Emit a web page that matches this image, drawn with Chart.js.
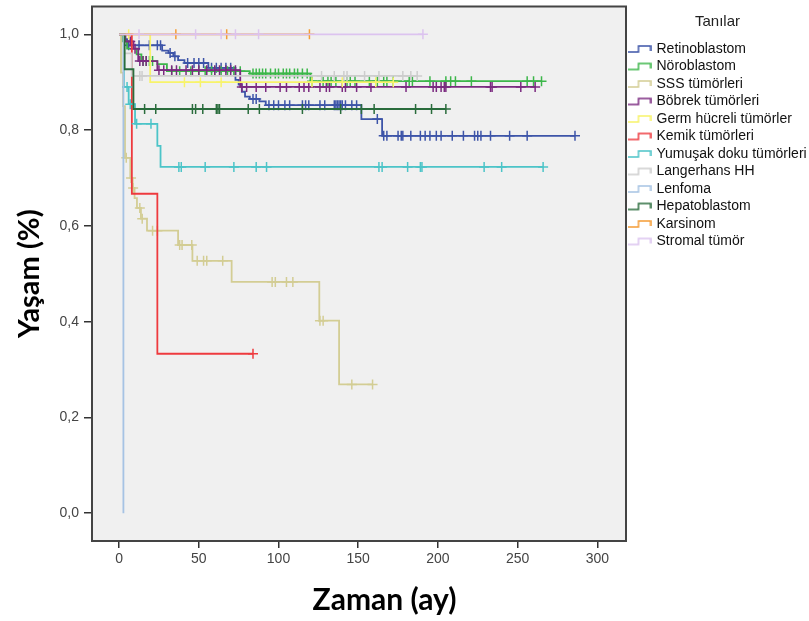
<!DOCTYPE html>
<html>
<head>
<meta charset="utf-8">
<script src="https://cdn.jsdelivr.net/npm/chart.js@4.4.0/dist/chart.umd.min.js"></script>
<style>
html, body { margin: 0; padding: 0; background: #fff; }
</style>
</head>
<body>
<canvas id="kmChart" width="809" height="621"></canvas>
<script>
// Kaplan-Meier: event times (T, ay), survival after each event (S), censored times (C)
var retinoT = [2, 5, 27, 31, 34, 37, 41, 56, 73, 75, 77, 79, 82, 88, 92, 152, 165];
var retinoS = [0.99, 0.977, 0.966, 0.961, 0.954, 0.946, 0.94, 0.93, 0.905, 0.895, 0.88, 0.87, 0.865, 0.86, 0.852, 0.823, 0.788];
var retinoC = [6, 12.5, 19, 24, 26, 32, 35, 43, 47, 50, 53, 58, 61, 64, 67, 70, 84, 86, 94, 97, 100, 104, 107, 115, 117, 119, 126, 129, 135, 136, 137, 138, 139, 140, 142, 146, 149, 162, 166, 168, 175, 177, 178, 183, 189, 192, 195, 199, 202, 209, 216, 223, 225, 227, 233, 245, 256, 286];

var neuroT = [2, 5, 11, 14, 24, 30, 82, 120];
var neuroS = [0.985, 0.97, 0.958, 0.944, 0.9375, 0.923, 0.918, 0.902];
var neuroC = [15, 17, 19, 21, 33, 38, 45, 50, 54, 58, 60, 64, 68, 72, 76, 84, 86, 88, 90, 92, 95, 98, 100, 103, 105, 107, 110, 112, 115, 118, 121, 128, 131, 133, 136, 143, 145, 148, 157, 162, 166, 168, 172, 182, 184, 195, 205, 208, 211, 221, 256, 260, 265];

var sssT = [1.2, 2.5, 3.7, 7, 8.5, 9.7, 11.2, 13.7, 17.5, 37, 46, 70.6, 125.6, 138];
var sssS = [0.92, 0.85, 0.742, 0.70, 0.679, 0.658, 0.6375, 0.615, 0.59, 0.56, 0.527, 0.483, 0.402, 0.269];
var sssC = [4.5, 7.5, 8.8, 13, 14.5, 21, 24, 38, 39.5, 45.6, 49, 53, 55, 65, 96, 98, 105, 109, 126, 128, 146, 159];

var bobrekT = [4, 9, 12, 24, 76];
var bobrekS = [0.985, 0.97, 0.944, 0.925, 0.89];
var bobrekC = [7, 10, 13, 15, 17, 25, 28, 33, 36, 42, 46, 50, 55, 60, 63, 67, 70, 73, 77, 80, 86, 92, 101, 105, 113, 116, 119, 126, 130, 132, 140, 142, 149, 158, 180, 197, 199, 202, 204, 205, 233, 234, 252, 261];

var germT = [19.5];
var germS = [0.9];
var germC = [6, 41, 51, 64, 121, 140, 161, 172];

var kemikT = [8, 24];
var kemikS = [0.667, 0.333];
var kemikC = [84];

var yumusakT = [3, 6, 10, 24, 26];
var yumusakS = [0.89, 0.854, 0.813, 0.767, 0.723];
var yumusakC = [5, 7, 11, 20, 37.5, 39, 54, 72, 86, 92.5, 163, 165, 181, 189, 190, 229, 240, 266];

var langerT = [3, 8];
var langerS = [0.96, 0.913];
var langerC = [13, 14.4, 127, 135, 141, 143, 154, 163, 178, 183, 187];

var lenfomaT = [2.7];
var lenfomaS = [0];
var lenfomaC = [];

var hepatoT = [3.5, 9];
var hepatoS = [0.927, 0.844];
var hepatoC = [16, 23, 46, 48, 52.5, 61, 62, 63, 81, 88, 115, 139, 152, 160, 186, 196, 205];

var karsinomT = [];
var karsinomS = [];
var karsinomC = [35.6, 67.5, 119.4];

var stromalT = [];
var stromalS = [];
var stromalC = [12.5, 48, 64, 73, 87.5, 190.6];

var groupNames = ['Retinoblastom', 'Nöroblastom', 'SSS tümörleri', 'Böbrek tümörleri', 'Germ hücreli tümörler',
    'Kemik tümörleri', 'Yumuşak doku tümörleri', 'Langerhans HH', 'Lenfoma', 'Hepatoblastom', 'Karsinom', 'Stromal tümör'];
var groupColors = ['#3d54a8', '#3cb64a', '#d3cd94', '#7b2a80', '#f7f36a', '#ee3a3e',
    '#4cc4c8', '#cdcdcd', '#a6c3e4', '#2a6c3c', '#f59c34', '#dcc3ef'];

var xTicks = [0, 50, 100, 150, 200, 250, 300];
var yTicks = [0, 0.2, 0.4, 0.6, 0.8, 1.0];

var groupData = [
    [retinoT, retinoS, retinoC], [neuroT, neuroS, neuroC], [sssT, sssS, sssC], [bobrekT, bobrekS, bobrekC],
    [germT, germS, germC], [kemikT, kemikS, kemikC], [yumusakT, yumusakS, yumusakC], [langerT, langerS, langerC],
    [lenfomaT, lenfomaS, lenfomaC], [hepatoT, hepatoS, hepatoC], [karsinomT, karsinomS, karsinomC], [stromalT, stromalS, stromalC]
];

var fontFam = "'Liberation Sans', Arial, sans-serif";

function survAt(T, S, t) {
    var s = 1;
    for (var i = 0; i < T.length; i++) {
        if (T[i] <= t) s = S[i];
    }
    return s;
}

function stepIcon(color) {
    var c = document.createElement('canvas');
    c.width = 24;
    c.height = 10;
    var g = c.getContext('2d');
    g.strokeStyle = color;
    g.lineWidth = 1.5;
    g.beginPath();
    g.moveTo(0, 8); g.lineTo(11, 8); g.lineTo(11, 2); g.lineTo(23, 2); g.lineTo(23, 7);
    g.stroke();
    return c;
}

var icons = groupColors.map(stepIcon);
var datasets = [];

groupData.forEach(function (gd, i) {
    var T = gd[0], S = gd[1], C = gd[2];
    var pts = [{x: 0, y: 1}];
    for (var k = 0; k < T.length; k++) pts.push({x: T[k], y: S[k]});
    var lastT = T.length ? T[T.length - 1] : 0;
    var lastS = S.length ? S[S.length - 1] : 1;
    var end = Math.max(lastT, C.length ? C[C.length - 1] : 0);
    if (end > lastT) pts.push({x: end, y: lastS});

    datasets.push({
        type: 'line',
        label: groupNames[i],
        data: pts,
        stepped: 'before',
        borderColor: groupColors[i],
        borderWidth: 1.8,
        pointRadius: 0,
        fill: false,
        order: -i * 2
    });
    datasets.push({
        type: 'scatter',
        label: groupNames[i] + ' sansürlü',
        data: C.map(function (t) { return {x: t, y: survAt(T, S, t)}; }),
        showLine: false,
        pointStyle: 'cross',
        pointRadius: 5,
        borderColor: groupColors[i],
        borderWidth: 1.5,
        order: -i * 2 - 1
    });
});

var plotFrame = {
    id: 'plotFrame',
    beforeDraw: function (chart) {
        var ctx = chart.ctx, ca = chart.chartArea;
        ctx.save();
        ctx.fillStyle = '#ffffff';
        ctx.fillRect(0, 0, chart.width, chart.height);
        ctx.fillStyle = '#f0f0f0';
        ctx.fillRect(ca.left, ca.top, ca.right - ca.left, ca.bottom - ca.top);
        ctx.restore();
    },
    afterDraw: function (chart) {
        var ctx = chart.ctx, ca = chart.chartArea;
        ctx.save();
        ctx.strokeStyle = '#444';
        ctx.lineWidth = 2;
        ctx.strokeRect(ca.left, ca.top, ca.right - ca.left, ca.bottom - ca.top);
        ctx.restore();
    }
};

// fix the legend column width so the plot ends where the reference does
var legendWidth = {
    id: 'legendWidth',
    beforeLayout: function (chart) {
        var lg = chart.legend;
        if (lg && !lg._fixedWidth) {
            var fit = lg.fit;
            lg.fit = function () {
                fit.call(this);
                this.width = 183;
            };
            lg._fixedWidth = true;
        }
    }
};

new Chart(document.getElementById('kmChart'), {
    type: 'line',
    data: {datasets: datasets},
    plugins: [plotFrame, legendWidth],
    options: {
        responsive: false,
        animation: false,
        layout: {padding: {top: 5, left: 0, right: 0, bottom: 0}},
        scales: {
            x: {
                type: 'linear',
                min: -17,
                max: 318,
                afterBuildTicks: function (s) { s.ticks = xTicks.map(function (v) { return {value: v}; }); },
                afterFit: function (s) { s.height = 80; s.paddingLeft = 0; s.paddingRight = 0; },
                border: {display: false},
                grid: {drawOnChartArea: false, drawTicks: true, tickLength: 7, color: '#333', lineWidth: 1.5},
                ticks: {autoSkip: false, maxRotation: 0, padding: 3, color: '#444', font: {family: fontFam, size: 14}},
                title: {
                    display: true,
                    text: '       Zaman (ay)',
                    color: '#000',
                    font: {family: 'Lato', size: 30, weight: 'bold'},
                    padding: {top: 0, bottom: 3}
                }
            },
            y: {
                type: 'linear',
                min: -0.058,
                max: 1.058,
                afterBuildTicks: function (s) { s.ticks = yTicks.map(function (v) { return {value: v}; }); },
                afterFit: function (s) { s.width = 92; s.paddingTop = 0; s.paddingBottom = 0; },
                border: {display: false},
                grid: {drawOnChartArea: false, drawTicks: true, tickLength: 8, color: '#333', lineWidth: 1.5},
                ticks: {
                    autoSkip: false, padding: 5, color: '#444', font: {family: fontFam, size: 14},
                    callback: function (v) { return v.toFixed(1).replace('.', ','); }
                },
                title: {
                    display: true,
                    text: 'Yaşam (%)',
                    color: '#000',
                    font: {family: 'Lato', size: 29, weight: 'bold'},
                    padding: {top: 12.5, bottom: 0}
                }
            }
        },
        plugins: {
            tooltip: {enabled: false},
            legend: {
                position: 'right',
                align: 'start',
                title: {
                    display: true,
                    text: 'Tanılar',
                    color: '#222',
                    font: {family: fontFam, size: 15},
                    padding: {top: 9.5, bottom: 6}
                },
                labels: {
                    usePointStyle: true,
                    pointStyleWidth: 20,
                    padding: 3.5,
                    color: '#111',
                    font: {family: fontFam, size: 14},
                    generateLabels: function () {
                        return groupNames.map(function (n, i) {
                            return {
                                text: n,
                                pointStyle: icons[i],
                                fillStyle: 'rgba(0,0,0,0)',
                                strokeStyle: 'rgba(0,0,0,0)',
                                lineWidth: 0,
                                hidden: false,
                                fontColor: '#111',
                                datasetIndex: i * 2
                            };
                        });
                    }
                }
            }
        }
    }
});
</script>
</body>
</html>
